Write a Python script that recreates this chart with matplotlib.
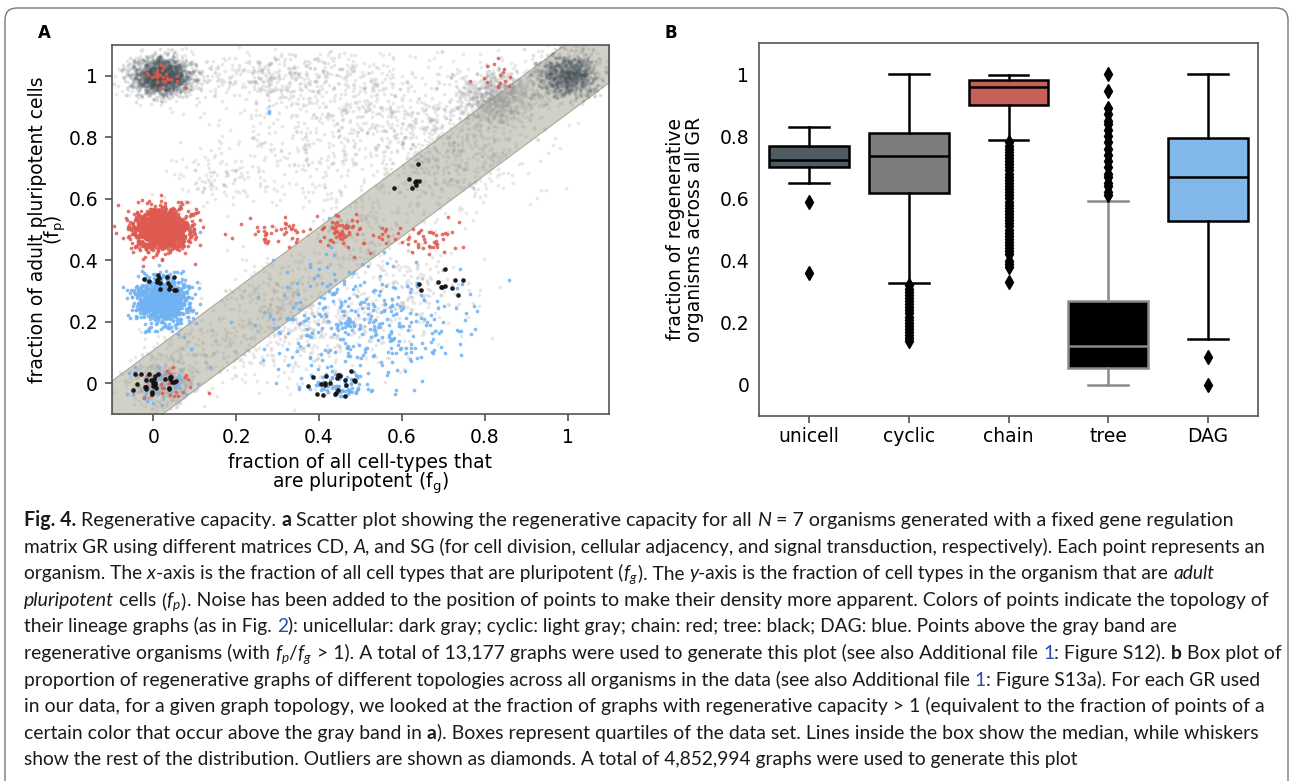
import numpy as np
import matplotlib
matplotlib.use('Agg')
import matplotlib.pyplot as plt
from matplotlib.patches import FancyBboxPatch
from matplotlib.font_manager import FontProperties
from matplotlib.transforms import IdentityTransform

W, H = 1290, 781

# ---- panel A: point clouds per lineage topology: (fg, fp, spread x, spread y, count)
unicell_clusters = [(0.02, 1.00, 0.034, 0.028, 1300), (1.00, 1.00, 0.038, 0.032, 700)]
cyclic_clusters = [
    (0.02, 1.00, 0.045, 0.035, 500),
    (0.30, 1.00, 0.13, 0.04, 350),
    (0.50, 0.88, 0.16, 0.10, 600),
    (0.83, 0.93, 0.05, 0.045, 800),
    (1.00, 1.00, 0.04, 0.035, 500),
    (0.72, 0.78, 0.10, 0.08, 350),
    (0.35, 0.70, 0.12, 0.08, 150),
    (0.10, 0.10, 0.06, 0.06, 150),
    (0.30, 0.30, 0.07, 0.07, 150),
    (0.50, 0.50, 0.07, 0.07, 150),
    (0.70, 0.68, 0.07, 0.07, 150),
    (0.02, 0.00, 0.04, 0.04, 400),
    (0.35, 0.15, 0.11, 0.08, 350),
    (0.62, 0.30, 0.08, 0.08, 200),
    (0.15, 0.66, 0.05, 0.05, 80),
]
chain_clusters = [
    (0.02, 0.50, 0.032, 0.032, 1500),
    (0.30, 0.49, 0.05, 0.025, 40),
    (0.45, 0.50, 0.035, 0.03, 60),
    (0.64, 0.48, 0.06, 0.03, 50),
    (0.02, 1.00, 0.025, 0.02, 25),
    (0.82, 1.00, 0.03, 0.025, 15),
    (0.03, 0.00, 0.04, 0.03, 25),
]
dag_clusters = [
    (0.02, 0.27, 0.032, 0.038, 900),
    (0.50, 0.20, 0.12, 0.10, 350),
    (0.44, -0.01, 0.04, 0.02, 60),
    (0.03, 0.00, 0.04, 0.03, 30),
    (0.28, 0.88, 0.003, 0.003, 2),
]
tree_clusters = [
    (0.02, 0.33, 0.02, 0.02, 15),
    (0.00, 0.00, 0.025, 0.02, 30),
    (0.45, 0.00, 0.04, 0.02, 22),
    (0.63, 0.66, 0.02, 0.02, 8),
    (0.71, 0.33, 0.03, 0.02, 11),
]

# gray band of non-regenerative organisms (fp ~ fg)
band_x = [-0.1, 1.1]
band_lo = [-0.22, 0.98]
band_hi = [0.01, 1.21]

ticks = [0, 0.2, 0.4, 0.6, 0.8, 1]
tick_labels = ['0', '0.2', '0.4', '0.6', '0.8', '1']

# ---- panel B: box plot stats
box_names = ['unicell', 'cyclic', 'chain', 'tree', 'DAG']
box_q1 = [0.700, 0.618, 0.902, 0.054, 0.528]
box_med = [0.722, 0.735, 0.959, 0.125, 0.670]
box_q3 = [0.769, 0.812, 0.981, 0.269, 0.795]
box_lo = [0.651, 0.328, 0.789, 0.000, 0.147]
box_hi = [0.829, 1.000, 0.998, 0.591, 1.000]
box_fliers = [
    [0.59, 0.36],
    [0.32, 0.31, 0.30, 0.29, 0.28, 0.27, 0.26, 0.25, 0.24, 0.23, 0.22, 0.21,
     0.20, 0.19, 0.18, 0.17, 0.16, 0.15, 0.14],
    [0.78, 0.77, 0.76, 0.75, 0.74, 0.73, 0.72, 0.71, 0.70, 0.69, 0.68, 0.67,
     0.66, 0.65, 0.64, 0.63, 0.62, 0.61, 0.60, 0.59, 0.58, 0.57, 0.56, 0.55,
     0.54, 0.53, 0.52, 0.51, 0.50, 0.49, 0.48, 0.47, 0.46, 0.45, 0.44, 0.43,
     0.42, 0.40, 0.39, 0.38, 0.33],
    [0.61, 0.62, 0.64, 0.65, 0.67, 0.68, 0.70, 0.72, 0.74, 0.76, 0.78, 0.80,
     0.82, 0.84, 0.85, 0.87, 0.89, 0.945, 1.0],
    [0.09, 0.0],
]
box_colors = ['#505c62', '#7c7d7b', '#c8605a', '#000000', '#82b7ea']
box_edges = ['black', 'black', 'black', '#8a8a8a', 'black']

# ---- caption lines: (text, style)  n normal, b bold, i italic, m math, l link
caption = [
    [("Fig. 4.", 'b'), (" Regenerative capacity. ", 'n'), ("a", 'b'),
     (" Scatter plot showing the regenerative capacity for all ", 'n'), ("N", 'i'),
     (" = 7 organisms generated with a fixed gene regulation", 'n')],
    [("matrix GR using different matrices CD, ", 'n'), ("A", 'i'),
     (", and SG (for cell division, cellular adjacency, and signal transduction, respectively). Each point represents an", 'n')],
    [("organism. The ", 'n'), ("x", 'i'),
     ("-axis is the fraction of all cell types that are pluripotent (", 'n'), (r"$f_g$", 'm'),
     ("). The ", 'n'), ("y", 'i'), ("-axis is the fraction of cell types in the organism that are ", 'n'),
     ("adult", 'i')],
    [("pluripotent", 'i'), (" cells ", 'n'), (r"$\left(f_p\right)$", 'm'),
     (". Noise has been added to the position of points to make their density more apparent. Colors of points indicate the topology of", 'n')],
    [("their lineage graphs (as in Fig. ", 'n'), ("2", 'l'),
     ("): unicellular: dark gray; cyclic: light gray; chain: red; tree: black; DAG: blue. Points above the gray band are", 'n')],
    [("regenerative organisms (with ", 'n'), (r"$f_p/f_g$", 'm'),
     (" > 1). A total of 13,177 graphs were used to generate this plot (see also Additional file ", 'n'),
     ("1", 'l'), (": Figure S12). ", 'n'), ("b", 'b'), (" Box plot of", 'n')],
    [("proportion of regenerative graphs of different topologies across all organisms in the data (see also Additional file ", 'n'),
     ("1", 'l'), (": Figure S13a). For each GR used", 'n')],
    [("in our data, for a given graph topology, we looked at the fraction of graphs with regenerative capacity > 1 (equivalent to the fraction of points of a", 'n')],
    [("certain color that occur above the gray band in ", 'n'), ("a", 'b'),
     ("). Boxes represent quartiles of the data set. Lines inside the box show the median, while whiskers", 'n')],
    [("show the rest of the distribution. Outliers are shown as diamonds. A total of 4,852,994 graphs were used to generate this plot", 'n')],
]
# right end of each caption line in the reference (pixels)
caption_right = [1227, 1266, 1216, 1264, 1173, 1273, 1256, 1262, 1251, 1079]

plt.rcParams['mathtext.fontset'] = 'custom'
plt.rcParams['mathtext.rm'] = 'Lato'
plt.rcParams['mathtext.it'] = 'Lato:italic'
plt.rcParams['mathtext.bf'] = 'Lato:bold'

fig = plt.figure(figsize=(W / 100, H / 100), dpi=100)

# outer frame with rounded top corners (bottom runs off the page)
frame = FancyBboxPatch((5, -30), 1283, H - 8 + 30, boxstyle='round,pad=0,rounding_size=12',
                       fc='none', ec='#777777', lw=1.0, transform=IdentityTransform())
fig.add_artist(frame)

axA = fig.add_axes([112 / W, 1 - 414 / H, 497 / W, 369 / H])
axB = fig.add_axes([759 / W, 1 - 416 / H, 499 / W, 373 / H])

# ---- panel A
# noise is added to point positions, as in the original figure
rng = np.random.default_rng(11)


def jitter(clusters):
    xs, ys = [], []
    for cx, cy, sx, sy, n in clusters:
        xs.append(cx + sx * rng.standard_normal(n))
        ys.append(cy + sy * rng.standard_normal(n))
    return np.concatenate(xs), np.concatenate(ys)


axA.fill_between(band_x, band_lo, band_hi, color='#d2d1c7', ec='#a9a897', lw=0.8, zorder=0.5)

x, y = jitter(cyclic_clusters)
axA.scatter(x, y, s=7, c='#9a9a9a', alpha=0.22, lw=0, zorder=1)
x, y = jitter(unicell_clusters)
axA.scatter(x, y, s=7, c='#46535a', alpha=0.18, lw=0, zorder=2)
x, y = jitter(dag_clusters)
axA.scatter(x, y, s=7, c='#6fb2f3', alpha=0.85, lw=0, zorder=3)
x, y = jitter(chain_clusters)
axA.scatter(x, y, s=7, c='#de5a50', alpha=0.85, lw=0, zorder=4)
x, y = jitter(tree_clusters)
axA.scatter(x, y, s=11, c='#111111', alpha=0.95, lw=0, zorder=5)

axA.set_xlim(-0.1, 1.1)
axA.set_ylim(-0.1, 1.1)
axA.set_xticks(ticks)
axA.set_xticklabels(tick_labels)
axA.set_yticks(ticks)
axA.set_yticklabels(tick_labels)
axA.tick_params(labelsize=13.5, length=5, width=1.1, color='#444444', pad=5)
axA.set_xlabel('fraction of all cell-types that\nare pluripotent (f$_\\mathrm{g}$)', fontsize=13.5,
               linespacing=0.88, math_fontfamily='dejavusans')
axA.xaxis.set_label_coords(0.5, -0.107)
axA.set_ylabel('fraction of adult pluripotent cells\n(f$_\\mathrm{p}$)', fontsize=13.5,
               linespacing=0.75, math_fontfamily='dejavusans')
axA.yaxis.set_label_coords(-0.088, 0.5)

# ---- panel B
stats = []
for i in range(len(box_names)):
    stats.append(dict(med=box_med[i], q1=box_q1[i], q3=box_q3[i],
                      whislo=box_lo[i], whishi=box_hi[i], fliers=box_fliers[i]))
art = axB.bxp(stats, positions=np.arange(len(box_names)), widths=0.8, capwidths=0.4,
              patch_artist=True, showfliers=True,
              boxprops=dict(lw=1.8),
              whiskerprops=dict(lw=1.8, color='black'),
              capprops=dict(lw=1.8, color='black'),
              medianprops=dict(lw=1.8, color='black'),
              flierprops=dict(marker='d', mfc='black', mec='black', ms=7, lw=0))
for i, box in enumerate(art['boxes']):
    box.set_facecolor(box_colors[i])
    box.set_edgecolor(box_edges[i])
    for ln in art['whiskers'][2 * i:2 * i + 2] + art['caps'][2 * i:2 * i + 2]:
        ln.set_color(box_edges[i])
    art['medians'][i].set_color(box_edges[i])

axB.set_xlim(-0.5, len(box_names) - 0.5)
axB.set_ylim(-0.1, 1.1)
axB.set_xticks(np.arange(len(box_names)))
axB.set_xticklabels(box_names)
axB.set_yticks(ticks)
axB.set_yticklabels(tick_labels)
axB.tick_params(labelsize=13.5, width=1.1, color='#444444')
axB.tick_params(axis='x', length=5, pad=3)
axB.tick_params(axis='y', length=0, pad=7)
axB.set_ylabel('fraction of regenerative\norganisms across all GR', fontsize=13.5, linespacing=1.0)
axB.yaxis.set_label_coords(-0.110, 0.5)

for ax in (axA, axB):
    for sp in ax.spines.values():
        sp.set_color('#555555')
        sp.set_linewidth(1.2)

fig.text(38 / W, 1 - 33 / H, 'A', fontsize=12, fontweight='bold', va='center')
fig.text(664 / W, 1 - 33 / H, 'B', fontsize=12, fontweight='bold', va='center')

# ---- caption, drawn segment by segment
renderer = fig.canvas.get_renderer()


def seg_prop(style, size):
    return FontProperties(family='Lato', size=size,
                          weight='bold' if style == 'b' else 'normal',
                          style='italic' if style == 'i' else 'normal',
                          math_fontfamily='custom')


def seg_width(s, style, size):
    prop = seg_prop(style, size)
    if style == 'm':
        return renderer.get_text_width_height_descent(s, prop, ismath=True)[0]
    w1 = renderer.get_text_width_height_descent('|' + s + '|', prop, ismath=False)[0]
    w0 = renderer.get_text_width_height_descent('||', prop, ismath=False)[0]
    return w1 - w0


cap_left = 24
for k, line in enumerate(caption):
    w12 = sum(seg_width(s, st, 12) for s, st in line)
    size = 12 * (caption_right[k] - cap_left) / w12
    xpx = cap_left
    ybase = 1 - (526 + 26.6 * k) / H
    for s, st in line:
        color = '#2b4bb5' if st == 'l' else '#1a1a1a'
        fig.text(xpx / W, ybase, s, fontproperties=seg_prop(st, size), color=color,
                 va='baseline', ha='left')
        xpx += seg_width(s, st, size)

fig.savefig('out.png', dpi=100)
